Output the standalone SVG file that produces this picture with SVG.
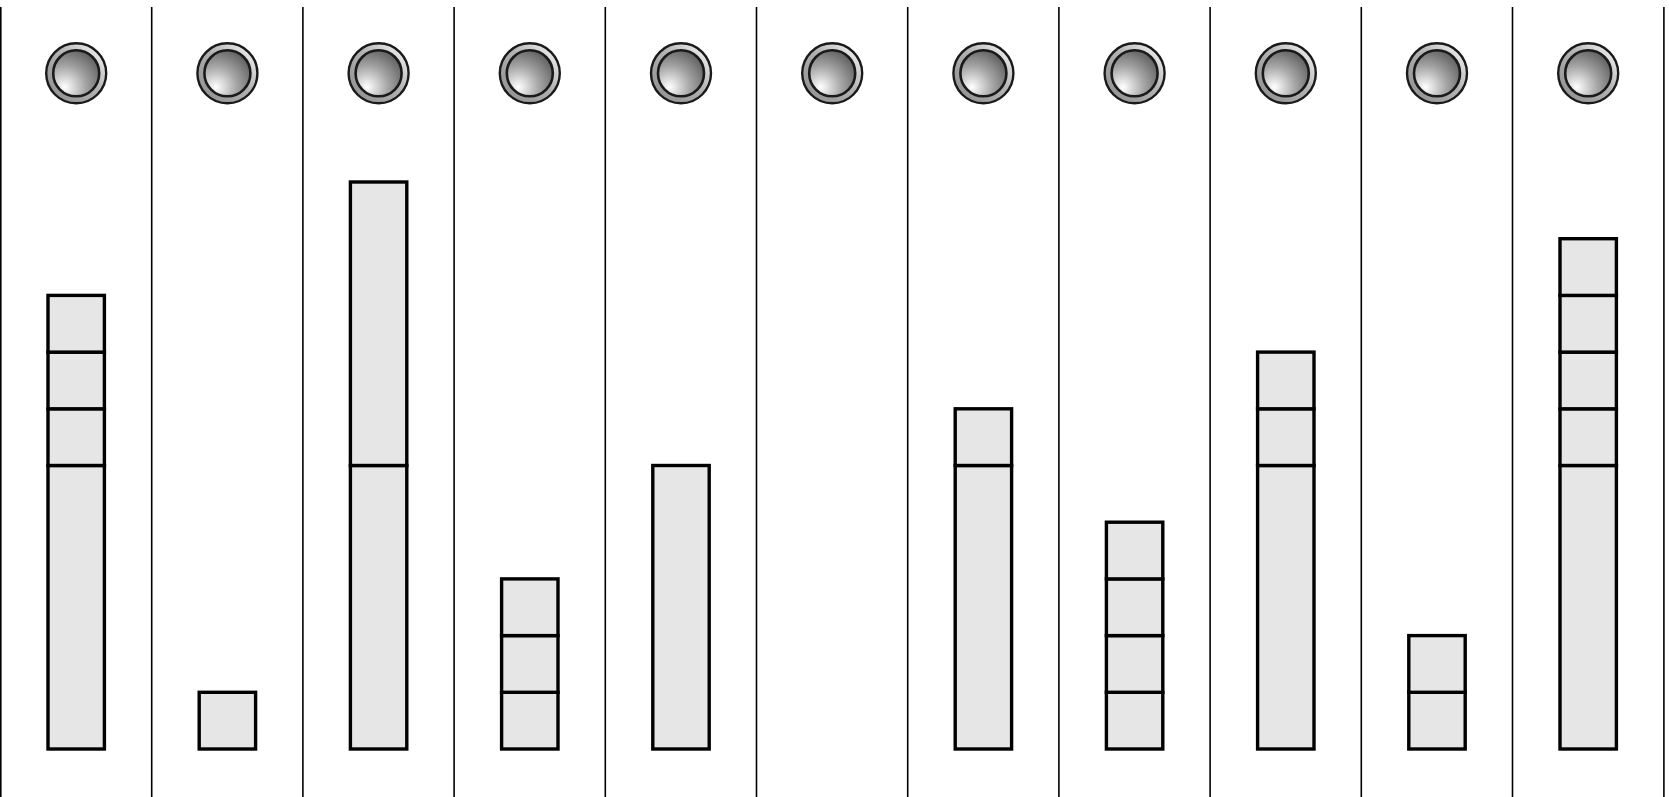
<svg xmlns="http://www.w3.org/2000/svg" width="1669" height="797" viewBox="0 0 1669 797">
<defs>
<linearGradient id="ring" x1="0" y1="1" x2="1" y2="0">
<stop offset="0" stop-color="#8a8a8a"/>
<stop offset="0.55" stop-color="#b3b3b3"/>
<stop offset="1" stop-color="#ffffff"/>
</linearGradient>
<radialGradient id="core" cx="0.25" cy="0.8" r="1" fx="0.25" fy="0.8">
<stop offset="0" stop-color="#ffffff"/>
<stop offset="0.45" stop-color="#a6a6a6"/>
<stop offset="1" stop-color="#4d4d4d"/>
</radialGradient>
<g id="knob">
<circle r="30" fill="url(#ring)" stroke="#1a1a1a" stroke-width="2.4"/>
<circle r="23" fill="url(#core)" stroke="#1a1a1a" stroke-width="2.6"/>
</g>
</defs>
<style>
.sep{stroke:#000;stroke-width:1.6;fill:none}
.cell{fill:#e6e6e6;stroke:#000;stroke-width:3.4}
</style>
<rect width="1669" height="797" fill="#fff"/>
<g id="separators">
<line class="sep" x1="0.8" y1="7" x2="0.8" y2="797"/>
<line class="sep" x1="151.7" y1="7" x2="151.7" y2="797"/>
<line class="sep" x1="302.9" y1="7" x2="302.9" y2="797"/>
<line class="sep" x1="454.1" y1="7" x2="454.1" y2="797"/>
<line class="sep" x1="605.3" y1="7" x2="605.3" y2="797"/>
<line class="sep" x1="756.5" y1="7" x2="756.5" y2="797"/>
<line class="sep" x1="907.7" y1="7" x2="907.7" y2="797"/>
<line class="sep" x1="1058.9" y1="7" x2="1058.9" y2="797"/>
<line class="sep" x1="1210.1" y1="7" x2="1210.1" y2="797"/>
<line class="sep" x1="1361.3" y1="7" x2="1361.3" y2="797"/>
<line class="sep" x1="1512.5" y1="7" x2="1512.5" y2="797"/>
<line class="sep" x1="1663.9" y1="7" x2="1663.9" y2="797" stroke="#333"/>
</g>
<g id="knobs">
<use href="#knob" x="76.2" y="73.3"/>
<use href="#knob" x="227.4" y="73.3"/>
<use href="#knob" x="378.6" y="73.3"/>
<use href="#knob" x="529.8" y="73.3"/>
<use href="#knob" x="681" y="73.3"/>
<use href="#knob" x="832.2" y="73.3"/>
<use href="#knob" x="983.4" y="73.3"/>
<use href="#knob" x="1134.6" y="73.3"/>
<use href="#knob" x="1285.8" y="73.3"/>
<use href="#knob" x="1437" y="73.3"/>
<use href="#knob" x="1588.2" y="73.3"/>
</g>
<g id="col1">
<rect class="cell" x="48" y="465.5" width="56.4" height="283.5"/>
<rect class="cell" x="48" y="408.8" width="56.4" height="56.7"/>
<rect class="cell" x="48" y="352.1" width="56.4" height="56.7"/>
<rect class="cell" x="48" y="295.4" width="56.4" height="56.7"/>
</g>
<g id="col2">
<rect class="cell" x="199.2" y="692.3" width="56.4" height="56.7"/>
</g>
<g id="col3">
<rect class="cell" x="350.4" y="465.5" width="56.4" height="283.5"/>
<rect class="cell" x="350.4" y="182" width="56.4" height="283.5"/>
</g>
<g id="col4">
<rect class="cell" x="501.6" y="692.3" width="56.4" height="56.7"/>
<rect class="cell" x="501.6" y="635.6" width="56.4" height="56.7"/>
<rect class="cell" x="501.6" y="578.9" width="56.4" height="56.7"/>
</g>
<g id="col5">
<rect class="cell" x="652.8" y="465.5" width="56.4" height="283.5"/>
</g>
<g id="col6"></g>
<g id="col7">
<rect class="cell" x="955.2" y="465.5" width="56.4" height="283.5"/>
<rect class="cell" x="955.2" y="408.8" width="56.4" height="56.7"/>
</g>
<g id="col8">
<rect class="cell" x="1106.4" y="692.3" width="56.4" height="56.7"/>
<rect class="cell" x="1106.4" y="635.6" width="56.4" height="56.7"/>
<rect class="cell" x="1106.4" y="578.9" width="56.4" height="56.7"/>
<rect class="cell" x="1106.4" y="522.2" width="56.4" height="56.7"/>
</g>
<g id="col9">
<rect class="cell" x="1257.6" y="465.5" width="56.4" height="283.5"/>
<rect class="cell" x="1257.6" y="408.8" width="56.4" height="56.7"/>
<rect class="cell" x="1257.6" y="352.1" width="56.4" height="56.7"/>
</g>
<g id="col10">
<rect class="cell" x="1408.8" y="692.3" width="56.4" height="56.7"/>
<rect class="cell" x="1408.8" y="635.6" width="56.4" height="56.7"/>
</g>
<g id="col11">
<rect class="cell" x="1560" y="465.5" width="56.4" height="283.5"/>
<rect class="cell" x="1560" y="408.8" width="56.4" height="56.7"/>
<rect class="cell" x="1560" y="352.1" width="56.4" height="56.7"/>
<rect class="cell" x="1560" y="295.4" width="56.4" height="56.7"/>
<rect class="cell" x="1560" y="238.7" width="56.4" height="56.7"/>
</g>
</svg>
